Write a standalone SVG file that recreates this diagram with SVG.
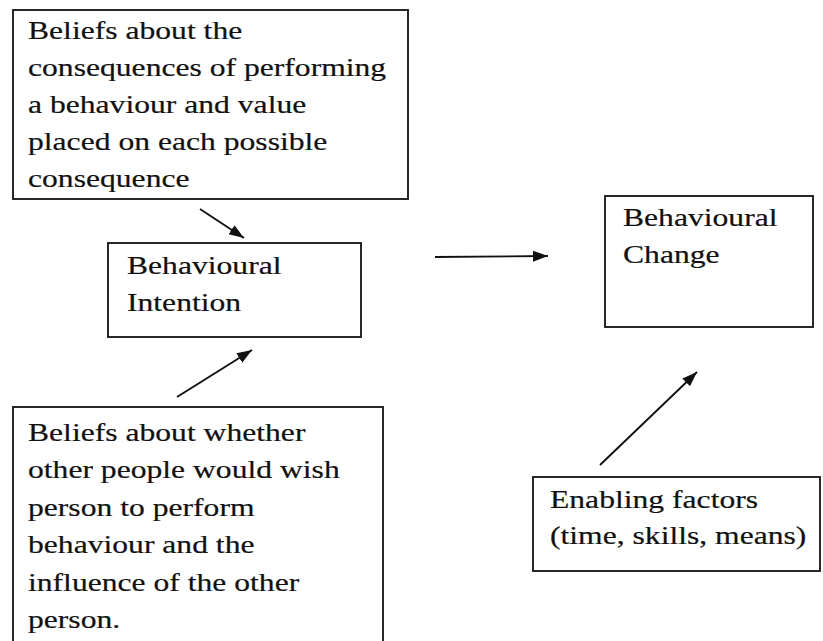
<svg xmlns="http://www.w3.org/2000/svg" width="823" height="641" viewBox="0 0 823 641">
<defs>
<style>
.box{fill:#fff;stroke:#111;stroke-width:1.8}
.t{font-family:"Liberation Serif","Times New Roman",serif;font-size:25.5px;fill:#111;stroke:#111;stroke-width:0.2}
.c{stroke:#111;stroke-width:1.9;fill:none}
</style>
<marker id="ah" markerUnits="userSpaceOnUse" markerWidth="18" markerHeight="14" refX="15" refY="5.5" orient="auto"><path d="M0,0 L15,5.5 L0,11 z" fill="#111"/></marker>
</defs>
<rect width="823" height="641" fill="#fff"/>
<g id="beliefs-consequences">
<rect class="box" x="13" y="10" width="395" height="189"/>
<text class="t" transform="translate(28,39) scale(1.24,1)"><tspan x="0" y="0">Beliefs about the</tspan><tspan x="0" y="37">consequences of performing</tspan><tspan x="0" y="74">a behaviour and value</tspan><tspan x="0" y="111">placed on each possible</tspan><tspan x="0" y="148">consequence</tspan></text>
</g>
<g id="behavioural-intention">
<rect class="box" x="108" y="243" width="253" height="94"/>
<text class="t" transform="translate(127,274) scale(1.24,1)"><tspan x="0" y="0">Behavioural</tspan><tspan x="0" y="37">Intention</tspan></text>
</g>
<g id="behavioural-change">
<rect class="box" x="605" y="196" width="208" height="131"/>
<text class="t" transform="translate(623,226) scale(1.24,1)"><tspan x="0" y="0">Behavioural</tspan><tspan x="0" y="37">Change</tspan></text>
</g>
<g id="beliefs-others">
<rect class="box" x="13" y="407" width="370" height="250"/>
<text class="t" transform="translate(28,441) scale(1.24,1)"><tspan x="0" y="0">Beliefs about whether</tspan><tspan x="0" y="37.5">other people would wish</tspan><tspan x="0" y="75">person to perform</tspan><tspan x="0" y="112.5">behaviour and the</tspan><tspan x="0" y="150">influence of the other</tspan><tspan x="0" y="187.5">person.</tspan></text>
</g>
<g id="enabling-factors">
<rect class="box" x="533" y="477" width="287" height="94"/>
<text class="t" transform="translate(550,508) scale(1.24,1)"><tspan x="0" y="0">Enabling factors</tspan><tspan x="0" y="36">(time, skills, means)</tspan></text>
</g>
<g id="connectors">
<line class="c" x1="200" y1="209" x2="244" y2="238" marker-end="url(#ah)"/>
<line class="c" x1="177" y1="397" x2="252" y2="350" marker-end="url(#ah)"/>
<line class="c" x1="435" y1="257" x2="548" y2="256" marker-end="url(#ah)"/>
<line class="c" x1="600" y1="465" x2="697" y2="372" marker-end="url(#ah)"/>
</g>
</svg>
